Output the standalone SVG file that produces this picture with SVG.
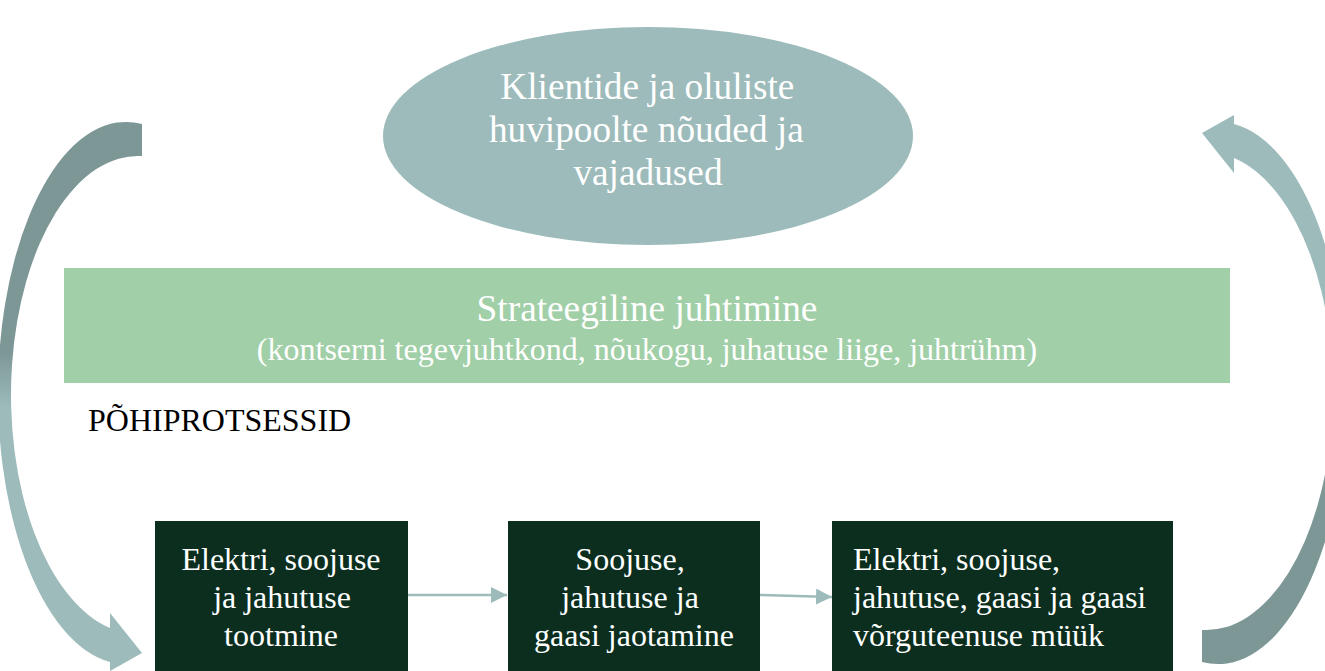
<svg xmlns="http://www.w3.org/2000/svg" width="1325" height="671" viewBox="0 0 1325 671">
<defs>
<linearGradient id="arrowGrad" x1="0" y1="0" x2="0" y2="1">
<stop offset="0" stop-color="#7C9796"/>
<stop offset="0.42" stop-color="#7C9796"/>
<stop offset="0.52" stop-color="#9DBBBB"/>
<stop offset="1" stop-color="#9DBBBB"/>
</linearGradient>
<marker id="head" markerWidth="16" markerHeight="16" refX="16" refY="8" orient="auto" markerUnits="userSpaceOnUse">
<path d="M0,0 L16,8 L0,16 Z" fill="#9DBBBB"/>
</marker>
<path id="curvedArrow" d="M142,124 A128,271 0 0 0 110,662 L110,671 L142,653 L110,613 L110,628 A127,239 0 0 1 142,156 Z"/>
</defs>
<style>
.w{font-family:"Liberation Serif","Times New Roman",serif;fill:#FFFFFF;}
.b{font-family:"Liberation Serif","Times New Roman",serif;fill:#000000;}
.box{fill:#0B2E1F;}
.conn{stroke:#9DBBBB;stroke-width:2.5;fill:none;}
</style>
<rect width="1325" height="671" fill="#FFFFFF"/>
<g id="loop-arrows">
<use href="#curvedArrow" fill="url(#arrowGrad)"/>
<use href="#curvedArrow" fill="url(#arrowGrad)" transform="rotate(180 672 393)"/>
</g>
<g id="needs">
<ellipse cx="648" cy="136" rx="265" ry="109" fill="#9DBBBB"/>
<text class="w" font-size="37.3" text-anchor="middle">
<tspan x="652" y="99">Klientide ja oluliste</tspan>
<tspan x="651" y="142">huvipoolte nõuded ja</tspan>
<tspan x="648" y="185">vajadused</tspan>
</text>
</g>
<g id="strategy">
<rect x="64" y="268" width="1166" height="115" fill="#A1CFA8"/>
<text class="w" font-size="37.3" text-anchor="middle" x="647" y="321">Strateegiline juhtimine</text>
<text class="w" font-size="32" text-anchor="middle" x="647" y="360">(kontserni tegevjuhtkond, nõukogu, juhatuse liige, juhtrühm)</text>
</g>
<g id="label">
<text class="b" font-size="32" x="88" y="431">PÕHIPROTSESSID</text>
</g>
<g id="connectors">
<line class="conn" x1="408" y1="595" x2="507" y2="595" marker-end="url(#head)"/>
<line class="conn" x1="760" y1="595" x2="832" y2="597" marker-end="url(#head)"/>
</g>
<g id="production">
<rect class="box" x="155" y="521" width="253" height="150"/>
<text class="w" font-size="32" text-anchor="middle">
<tspan x="285" y="570">Elektri, soojuse</tspan>
<tspan x="286" y="608">ja jahutuse</tspan>
<tspan x="281" y="646">tootmine</tspan>
</text>
</g>
<g id="distribution">
<rect class="box" x="508" y="521" width="252" height="150"/>
<text class="w" font-size="32" text-anchor="middle">
<tspan x="634" y="570">Soojuse,</tspan>
<tspan x="634" y="608">jahutuse ja</tspan>
<tspan x="634" y="646">gaasi jaotamine</tspan>
</text>
</g>
<g id="sales">
<rect class="box" x="832" y="521" width="341" height="150"/>
<text class="w" font-size="32">
<tspan x="853" y="570">Elektri, soojuse,</tspan>
<tspan x="853" y="608">jahutuse, gaasi ja gaasi</tspan>
<tspan x="853" y="646">võrguteenuse müük</tspan>
</text>
</g>
</svg>
